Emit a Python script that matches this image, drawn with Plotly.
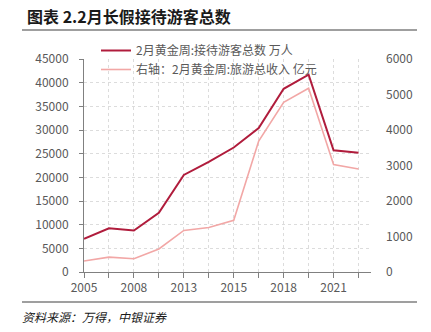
import plotly.graph_objects as go

years = ["2005", "2007", "2008", "2011", "2013", "2014", "2015", "2016", "2018", "2019", "2021", "2022"]
tick_labels = ["2005", "", "2008", "", "2013", "", "2015", "", "2018", "", "2021", ""]
visitors = [7000, 9250, 8750, 12500, 20500, 23250, 26300, 30400, 38700, 41700, 25700, 25200]
revenue = [310, 420, 375, 650, 1170, 1255, 1455, 3690, 4780, 5175, 3030, 2900]

name1 = "2月黄金周:接待游客总数 万人"
name2 = "右轴：2月黄金周:旅游总收入 亿元"

FONT = "Noto Sans CJK SC"
W, H = 431, 332
L, R, T, B = 84, 371, 59, 272

def px(x):
    return (x - L) / (R - L)

def py(y):
    return (B - y) / (B - T)

xs = list(range(len(years)))

fig = go.Figure()
fig.add_trace(go.Scatter(x=xs, y=visitors, name=name1, mode="lines",
                         line=dict(color="#B01C3C", width=2), cliponaxis=False))
fig.add_trace(go.Scatter(x=xs, y=revenue, name=name2, mode="lines", yaxis="y2",
                         line=dict(color="#F2A7A6", width=1.6), cliponaxis=False))

fig.update_layout(
    width=W, height=H,
    margin=dict(l=L, r=W - R, t=T, b=H - B),
    paper_bgcolor="white", plot_bgcolor="white",
    font=dict(family=FONT, size=12, color="#595959"),
    showlegend=True,
    legend=dict(x=px(96), y=py(36), xanchor="left", yanchor="top",
                bgcolor="rgba(0,0,0,0)", font=dict(size=12, color="#595959"),
                itemwidth=30, tracegroupgap=4),
    xaxis=dict(range=[0, 11.5], tickmode="array", tickvals=xs, ticktext=tick_labels,
               showgrid=True, gridcolor="#dcdcdc", griddash="dot", gridwidth=1,
               showline=True, linecolor="#808080", linewidth=1,
               ticks="outside", ticklen=5, tickcolor="#808080",
               tickfont=dict(size=12, color="#595959"), zeroline=False),
    yaxis=dict(range=[0, 45000], dtick=5000, tickformat="d", showgrid=True,
               gridcolor="#dcdcdc", griddash="dot", showline=True,
               linecolor="#808080", linewidth=1,
               ticks="outside", ticklen=4, tickcolor="#808080", zeroline=False,
               tickfont=dict(size=12, color="#595959"), ticklabelstandoff=8),
    yaxis2=dict(range=[0, 6000], dtick=1000, tickformat="d", overlaying="y", side="right",
                showgrid=False, showline=False, zeroline=False, ticks="",
                tickfont=dict(size=12, color="#595959"), ticklabelstandoff=14),
)

fig.add_shape(type="line", xref="paper", yref="paper", x0=px(22), x1=px(417),
              y0=py(30), y1=py(30), line=dict(color="#7f7f7f", width=1.5))
fig.add_shape(type="line", xref="paper", yref="paper", x0=px(22), x1=px(417),
              y0=py(302), y1=py(302), line=dict(color="#7f7f7f", width=1.5))
fig.add_annotation(xref="paper", yref="paper", x=px(25), y=py(16), xanchor="left",
                   yanchor="middle", showarrow=False,
                   text="<b>图表 2.2月长假接待游客总数</b>",
                   font=dict(family=FONT, size=16, color="#1a1a1a"))
fig.add_annotation(xref="paper", yref="paper", x=px(20), y=py(316), xanchor="left",
                   yanchor="middle", showarrow=False,
                   text="<i>资料来源：万得，中银证券</i>",
                   font=dict(family=FONT, size=12, color="#1a1a1a"))

fig.write_html("out.html")
